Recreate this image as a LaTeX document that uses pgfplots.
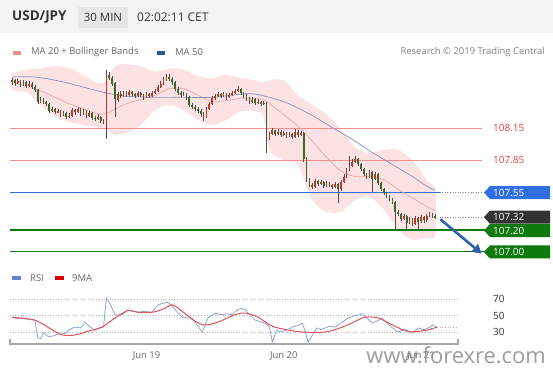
\documentclass[border=0pt]{standalone}
\usepackage{pgfplots}
\pgfplotsset{compat=1.18}
\usepackage{pgfplotstable}
\usetikzlibrary{arrows.meta}
\usepackage{fontspec}
\setmainfont{Open Sans}
\definecolor{hdr}{HTML}{F4F4F4}
\definecolor{minbox}{HTML}{E6E6E6}
\definecolor{bbfill}{HTML}{FCE2E2}
\definecolor{ma20}{HTML}{F0A0A0}
\definecolor{ma50}{HTML}{8092B8}
\definecolor{ma50sw}{HTML}{2B5797}
\definecolor{upc}{HTML}{C8322D}
\definecolor{dnc}{HTML}{2F6B2F}
\definecolor{lvlred}{HTML}{F29090}
\definecolor{lvltxt}{HTML}{E0403C}
\definecolor{lvlblue}{HTML}{2F6FE0}
\definecolor{lvlgreen}{HTML}{0E7A0E}
\definecolor{darktag}{HTML}{333333}
\definecolor{arrowc}{HTML}{2F62A8}
\definecolor{rsic}{HTML}{8AA4D8}
\definecolor{rsisw}{HTML}{5F7FCF}
\definecolor{rsima}{HTML}{E05555}
\definecolor{txt}{HTML}{333333}
\definecolor{txtg}{HTML}{666666}

\newcommand{\pricetag}[3]{%
  \fill[#2] (axis cs:166.1,#1) ++(-3bp,0bp) -- ++(6bp,6.5bp) -- ++(60bp,0bp) -- ++(0bp,-13bp) -- ++(-60bp,0bp) -- cycle;
  \node[white, anchor=west, inner sep=0pt, font=\fontsize{10}{10}\selectfont, xshift=6bp] at (axis cs:166.1,#1) {#3};}

\pgfplotstableread{
i o h l c
0 108.58 108.62 108.56 108.60
1 108.60 108.61 108.55 108.57
2 108.57 108.61 108.56 108.59
3 108.59 108.60 108.54 108.56
4 108.56 108.60 108.55 108.58
5 108.58 108.59 108.53 108.55
6 108.55 108.59 108.54 108.57
7 108.57 108.58 108.52 108.54
8 108.54 108.56 108.49 108.51
9 108.51 108.52 108.38 108.40
10 108.40 108.44 108.39 108.42
11 108.42 108.43 108.38 108.40
12 108.40 108.41 108.36 108.38
13 108.38 108.39 108.29 108.31
14 108.31 108.35 108.30 108.33
15 108.33 108.34 108.28 108.30
16 108.30 108.33 108.29 108.31
17 108.31 108.32 108.26 108.28
18 108.28 108.31 108.27 108.29
19 108.29 108.30 108.24 108.26
20 108.26 108.29 108.25 108.27
21 108.27 108.34 108.26 108.32
22 108.32 108.33 108.28 108.30
23 108.30 108.35 108.29 108.33
24 108.33 108.34 108.27 108.29
25 108.29 108.33 108.28 108.31
26 108.31 108.32 108.25 108.27
27 108.27 108.31 108.26 108.29
28 108.29 108.30 108.23 108.25
29 108.25 108.27 108.22 108.24
30 108.24 108.28 108.23 108.26
31 108.26 108.27 108.20 108.22
32 108.22 108.24 108.19 108.21
33 108.21 108.70 108.05 108.65
34 108.65 108.68 108.60 108.62
35 108.62 108.64 108.55 108.57
36 108.57 108.58 108.26 108.42
37 108.42 108.49 108.40 108.47
38 108.47 108.50 108.43 108.45
39 108.45 108.50 108.44 108.48
40 108.48 108.50 108.44 108.46
41 108.46 108.51 108.45 108.49
42 108.49 108.50 108.45 108.47
43 108.47 108.48 108.43 108.45
44 108.45 108.50 108.44 108.48
45 108.48 108.49 108.44 108.46
46 108.46 108.47 108.42 108.44
47 108.44 108.49 108.43 108.47
48 108.47 108.48 108.43 108.45
49 108.45 108.50 108.44 108.48
50 108.48 108.52 108.47 108.50
51 108.50 108.56 108.49 108.54
52 108.54 108.59 108.53 108.57
53 108.57 108.63 108.56 108.60
54 108.60 108.66 108.59 108.63
55 108.63 108.66 108.59 108.61
56 108.61 108.63 108.56 108.58
57 108.58 108.59 108.50 108.52
58 108.52 108.54 108.46 108.48
59 108.48 108.50 108.44 108.46
60 108.46 108.49 108.45 108.47
61 108.47 108.48 108.42 108.44
62 108.44 108.45 108.35 108.37
63 108.37 108.39 108.33 108.35
64 108.35 108.37 108.31 108.33
65 108.33 108.35 108.29 108.31
66 108.31 108.33 108.26 108.28
67 108.28 108.30 108.22 108.26
68 108.26 108.35 108.25 108.33
69 108.33 108.40 108.32 108.38
70 108.38 108.45 108.37 108.43
71 108.43 108.47 108.42 108.45
72 108.45 108.49 108.44 108.47
73 108.47 108.48 108.43 108.45
74 108.45 108.49 108.44 108.47
75 108.47 108.48 108.42 108.44
76 108.44 108.48 108.43 108.46
77 108.46 108.50 108.45 108.48
78 108.48 108.52 108.47 108.50
79 108.50 108.55 108.49 108.52
80 108.52 108.53 108.46 108.48
81 108.48 108.49 108.43 108.45
82 108.45 108.47 108.41 108.43
83 108.43 108.44 108.38 108.40
84 108.40 108.44 108.39 108.42
85 108.42 108.43 108.37 108.39
86 108.39 108.42 108.38 108.40
87 108.40 108.41 108.36 108.38
88 108.38 108.41 108.37 108.39
89 108.39 108.40 107.92 108.06
90 108.06 108.12 108.04 108.10
91 108.10 108.15 108.09 108.13
92 108.13 108.14 108.08 108.10
93 108.10 108.14 108.09 108.12
94 108.12 108.13 108.07 108.09
95 108.09 108.13 108.08 108.11
96 108.11 108.12 108.06 108.08
97 108.08 108.12 108.07 108.10
98 108.10 108.11 108.05 108.07
99 108.07 108.14 108.06 108.12
100 108.12 108.13 108.07 108.09
101 108.09 108.13 108.08 108.11
102 108.11 108.12 107.84 107.86
103 107.86 107.88 107.65 107.67
104 107.67 107.69 107.60 107.62
105 107.62 107.64 107.58 107.60
106 107.60 107.68 107.59 107.66
107 107.66 107.67 107.61 107.63
108 107.63 107.67 107.62 107.65
109 107.65 107.66 107.59 107.61
110 107.61 107.66 107.60 107.64
111 107.64 107.65 107.60 107.62
112 107.62 107.63 107.58 107.60
113 107.60 107.65 107.59 107.63
114 107.63 107.64 107.45 107.58
115 107.58 107.67 107.57 107.65
116 107.65 107.72 107.64 107.70
117 107.70 107.78 107.69 107.76
118 107.76 107.89 107.75 107.80
119 107.80 107.86 107.79 107.84
120 107.84 107.89 107.83 107.86
121 107.86 107.87 107.80 107.82
122 107.82 107.83 107.75 107.77
123 107.77 107.78 107.70 107.72
124 107.72 107.73 107.68 107.70
125 107.70 107.76 107.69 107.74
126 107.74 107.75 107.56 107.68
127 107.68 107.74 107.67 107.72
128 107.72 107.73 107.62 107.64
129 107.64 107.65 107.56 107.58
130 107.58 107.59 107.53 107.55
131 107.55 107.56 107.50 107.52
132 107.52 107.53 107.47 107.49
133 107.49 107.50 107.44 107.46
134 107.46 107.47 107.20 107.37
135 107.37 107.39 107.33 107.35
136 107.35 107.36 107.28 107.30
137 107.30 107.35 107.29 107.33
138 107.33 107.34 107.21 107.27
139 107.27 107.32 107.26 107.30
140 107.30 107.31 107.24 107.26
141 107.26 107.33 107.25 107.31
142 107.31 107.32 107.21 107.28
143 107.28 107.34 107.27 107.32
144 107.32 107.33 107.27 107.29
145 107.29 107.35 107.28 107.33
146 107.33 107.37 107.32 107.35
147 107.35 107.36 107.31 107.33
148 107.33 107.35 107.30 107.32
}\candles

\pgfplotstableread{
i o c
0 108.58 108.60
2 108.57 108.59
4 108.56 108.58
6 108.55 108.57
10 108.40 108.42
14 108.31 108.33
16 108.30 108.31
18 108.28 108.29
20 108.26 108.27
21 108.27 108.32
23 108.30 108.33
25 108.29 108.31
27 108.27 108.29
30 108.24 108.26
33 108.21 108.65
37 108.42 108.47
39 108.45 108.48
41 108.46 108.49
44 108.45 108.48
47 108.44 108.47
49 108.45 108.48
50 108.48 108.50
51 108.50 108.54
52 108.54 108.57
53 108.57 108.60
54 108.60 108.63
60 108.46 108.47
68 108.26 108.33
69 108.33 108.38
70 108.38 108.43
71 108.43 108.45
72 108.45 108.47
74 108.45 108.47
76 108.44 108.46
77 108.46 108.48
78 108.48 108.50
79 108.50 108.52
84 108.40 108.42
86 108.39 108.40
88 108.38 108.39
90 108.06 108.10
91 108.10 108.13
93 108.10 108.12
95 108.09 108.11
97 108.08 108.10
99 108.07 108.12
101 108.09 108.11
106 107.60 107.66
108 107.63 107.65
110 107.61 107.64
113 107.60 107.63
115 107.58 107.65
116 107.65 107.70
117 107.70 107.76
118 107.76 107.80
119 107.80 107.84
120 107.84 107.86
125 107.70 107.74
127 107.68 107.72
137 107.30 107.33
139 107.27 107.30
141 107.26 107.31
143 107.28 107.32
145 107.29 107.33
146 107.33 107.35
}\upbodies

\pgfplotstableread{
i o c
1 108.60 108.57
3 108.59 108.56
5 108.58 108.55
7 108.57 108.54
8 108.54 108.51
9 108.51 108.40
11 108.42 108.40
12 108.40 108.38
13 108.38 108.31
15 108.33 108.30
17 108.31 108.28
19 108.29 108.26
22 108.32 108.30
24 108.33 108.29
26 108.31 108.27
28 108.29 108.25
29 108.25 108.24
31 108.26 108.22
32 108.22 108.21
34 108.65 108.62
35 108.62 108.57
36 108.57 108.42
38 108.47 108.45
40 108.48 108.46
42 108.49 108.47
43 108.47 108.45
45 108.48 108.46
46 108.46 108.44
48 108.47 108.45
55 108.63 108.61
56 108.61 108.58
57 108.58 108.52
58 108.52 108.48
59 108.48 108.46
61 108.47 108.44
62 108.44 108.37
63 108.37 108.35
64 108.35 108.33
65 108.33 108.31
66 108.31 108.28
67 108.28 108.26
73 108.47 108.45
75 108.47 108.44
80 108.52 108.48
81 108.48 108.45
82 108.45 108.43
83 108.43 108.40
85 108.42 108.39
87 108.40 108.38
89 108.39 108.06
92 108.13 108.10
94 108.12 108.09
96 108.11 108.08
98 108.10 108.07
100 108.12 108.09
102 108.11 107.86
103 107.86 107.67
104 107.67 107.62
105 107.62 107.60
107 107.66 107.63
109 107.65 107.61
111 107.64 107.62
112 107.62 107.60
114 107.63 107.58
121 107.86 107.82
122 107.82 107.77
123 107.77 107.72
124 107.72 107.70
126 107.74 107.68
128 107.72 107.64
129 107.64 107.58
130 107.58 107.55
131 107.55 107.52
132 107.52 107.49
133 107.49 107.46
134 107.46 107.37
135 107.37 107.35
136 107.35 107.30
138 107.33 107.27
140 107.30 107.26
142 107.31 107.28
144 107.32 107.29
147 107.35 107.33
148 107.33 107.32
}\dnbodies

% Bollinger envelope: upper band forward, lower band back
\pgfplotstableread{
i p
0 108.66
5 108.70
10 108.71
15 108.73
20 108.71
25 108.65
30 108.57
33 108.60
36 108.73
40 108.75
45 108.73
50 108.68
55 108.71
60 108.70
65 108.64
70 108.62
75 108.65
80 108.62
85 108.60
88 108.58
90 108.60
95 108.60
100 108.46
105 108.37
110 108.28
115 108.14
120 107.97
125 107.92
130 107.95
135 107.95
140 107.85
145 107.67
148 107.57
148 107.15
145 107.13
140 107.11
135 107.20
130 107.39
125 107.51
120 107.48
115 107.37
110 107.37
105 107.48
100 107.81
95 107.85
90 107.95
88 108.26
85 108.31
80 108.31
75 108.23
70 108.18
65 108.23
60 108.32
55 108.37
50 108.32
45 108.18
40 108.11
36 108.09
33 108.14
30 108.16
25 108.18
20 108.21
15 108.26
10 108.37
5 108.49
0 108.51
0 108.66
}\bands

\pgfplotstableread{
i ma
0 108.58
10 108.50
20 108.38
30 108.29
33 108.29
36 108.33
40 108.38
45 108.42
50 108.46
55 108.52
60 108.52
65 108.46
70 108.40
75 108.41
80 108.43
85 108.43
88 108.42
90 108.38
95 108.28
100 108.17
105 108.03
110 107.88
115 107.75
120 107.70
125 107.70
130 107.67
135 107.58
140 107.50
145 107.42
148 107.38
}\maTwenty

\pgfplotstableread{
i ma
0 108.63
8 108.63
15 108.60
20 108.57
30 108.50
35 108.47
40 108.45
50 108.44
60 108.44
70 108.44
80 108.47
85 108.47
90 108.44
95 108.40
100 108.34
105 108.27
110 108.19
115 108.11
120 108.03
125 107.94
130 107.86
135 107.78
140 107.70
145 107.61
148 107.57
}\maFifty

\pgfplotstableread{
i r
0 48
2 46
3.5 47
6 45
8 44.5
9 23
10 22
11 29
12 26
13 24
15 26
17 29
18.5 28
20 33
22 36
24 35
25.5 42
27 37
29 32
30.5 35
32 36
33 71
34 66
36 51
38.5 51
40.5 57
42 55
44 54
46 55
49 54
51 63
53 65
54.5 66
56 62
57.5 55
59.5 48
61 47
63 47
65 37
66.5 30
68.5 47
71 53
73 51
75 52
77 51
78.5 56
80 59
81.5 57
82.5 53
84 48
85 44.5
87 42
88.5 41
90 36
91 18
92.5 32
94 30
95.5 32
97 34
98 36
100 38
101.5 41
102.5 30
103.5 18
105 26
106.5 35
108 33
109.5 35
111 37
113 36
115 41
117.5 47
119 49
120.5 50
122.5 52
124 47
126 41
128 44
129.5 47
131 41
133 35
135 30
137 33
138 32
140 29
142 35
143.5 33
144.5 33
146 36
147 38.5
148.5 36
}\rsi

\pgfplotstableread{
i m
0 48
4 46.5
8 44.5
12 37
17 27
21 26
24 28
26.5 31
31.5 36
36 47
40.5 56
44 54
49 54
53 58
56 63
59.5 55
64 43
67.5 38.5
72 42
78 51
81.5 53
86 48
91 37
98 31.5
101.5 30
109.5 30
115.5 36
120 43
123.5 48
128 47
133 38.5
138.5 30.5
144.5 32
148.5 36
}\rsima

\begin{document}
\begin{tikzpicture}[x=1bp,y=1bp]
\fill[white] (0,0) rectangle (553,375);
\fill[hdr] (0,342) rectangle (553,375);
\fill[minbox] (78,347) rectangle (128,368);
\node[anchor=west, inner sep=0pt, text=txt, font=\bfseries\fontsize{13.5}{14}\selectfont] at (12,358) {USD/JPY};
\node[inner sep=0pt, text=txt, font=\fontsize{11.5}{12}\selectfont] at (103,358) {30 MIN};
\node[anchor=west, inner sep=0pt, text=txt, font=\fontsize{12}{12}\selectfont] at (137,358) {02:02:11 CET};
% legend main
\fill[lvlred] (13,320.5) rectangle (21,324.5);
\node[anchor=west, inner sep=0pt, text=txtg, font=\fontsize{9.5}{10}\selectfont] at (31,322.5) {MA 20 + Bollinger Bands};
\fill[ma50sw] (157,320.5) rectangle (165,324.5);
\node[anchor=west, inner sep=0pt, text=txtg, font=\fontsize{9.5}{10}\selectfont] at (175,322.5) {MA 50};
\node[anchor=east, inner sep=0pt, text=black!50, font=\fontsize{9.5}{10}\selectfont] at (545,322.5) {Research © 2019 Trading Central};
% legend RSI
\fill[rsisw] (12,95) rectangle (21,99);
\node[anchor=west, inner sep=0pt, text=txtg, font=\fontsize{9.5}{10}\selectfont] at (30,97) {RSI};
\fill[red!85!black] (55,95) rectangle (64,99);
\node[anchor=west, inner sep=0pt, text=txtg, font=\fontsize{9.5}{10}\selectfont] at (72,97) {9MA};

\begin{axis}[at={(10bp,113bp)}, anchor=south west, width=477bp, height=200bp, scale only axis,
  xmin=-0.7, xmax=166.1, ymin=106.901, ymax=108.770, axis lines=none, clip=false]
\addplot[fill=bbfill, draw=none, smooth, tension=0.5] table[x=i, y=p] \bands;
% levels
\addplot[lvlred, line width=0.7bp] coordinates {(-0.7,108.15) (164.5,108.15)};
\addplot[lvlred, line width=0.7bp] coordinates {(-0.7,107.85) (164.5,107.85)};
\addplot[lvlblue, line width=0.8bp] coordinates {(-0.7,107.55) (149.5,107.55)};
\addplot[black!45, dotted, line width=0.6bp] coordinates {(149.5,107.55) (166.1,107.55)};
\addplot[black!45, dotted, line width=0.6bp] coordinates {(149.5,107.32) (166.1,107.32)};
\addplot[lvlgreen, line width=1.6bp] coordinates {(-0.7,107.20) (166.1,107.20)};
\addplot[lvlgreen, line width=1.6bp] coordinates {(-0.7,107.00) (166.1,107.00)};
% moving averages
\addplot[ma20, line width=0.6bp, smooth] table[x=i, y=ma] \maTwenty;
\addplot[ma50, line width=0.7bp, smooth] table[x=i, y=ma] \maFifty;
% candles: wicks
\addplot[draw=none, mark=none, error bars/.cd, y dir=both, y explicit, error mark=none,
  error bar style={line width=0.45bp, black!70}]
  table[x=i, y expr={(\thisrow{h}+\thisrow{l})/2}, y error expr={(\thisrow{h}-\thisrow{l})/2}] \candles;
% candles: bodies
\addplot[draw=none, mark=none, error bars/.cd, y dir=both, y explicit, error mark=none,
  error bar style={line width=1.7bp, upc}]
  table[x=i, y expr={(\thisrow{o}+\thisrow{c})/2}, y error expr={max(abs(\thisrow{c}-\thisrow{o})/2,0.005)}] \upbodies;
\addplot[draw=none, mark=none, error bars/.cd, y dir=both, y explicit, error mark=none,
  error bar style={line width=1.7bp, dnc}]
  table[x=i, y expr={(\thisrow{o}+\thisrow{c})/2}, y error expr={max(abs(\thisrow{c}-\thisrow{o})/2,0.005)}] \dnbodies;
% labels
\node[anchor=west, inner sep=0pt, text=lvltxt, font=\fontsize{10}{10}\selectfont, xshift=6bp] at (axis cs:166.1,108.15) {108.15};
\node[anchor=west, inner sep=0pt, text=lvltxt, font=\fontsize{10}{10}\selectfont, xshift=6bp] at (axis cs:166.1,107.85) {107.85};
\pricetag{107.55}{lvlblue}{107.55}
\pricetag{107.32}{darktag}{107.32}
\pricetag{107.195}{lvlgreen}{107.20}
\pricetag{106.995}{lvlgreen}{107.00}
\draw[arrowc, line width=2.6bp, -{Triangle[length=9bp, width=10bp]}] (axis cs:149.8,107.30) -- (axis cs:164.2,106.98);
\end{axis}

\begin{axis}[at={(10bp,31bp)}, anchor=south west, width=448bp, height=54bp, scale only axis,
  xmin=-0.7, xmax=155.9, ymin=15.5, ymax=80.9, axis lines=none, clip=false]
\addplot[black!30, dotted, line width=0.7bp] coordinates {(-0.7,70) (155.9,70)};
\addplot[black!30, dotted, line width=0.7bp] coordinates {(-0.7,50) (155.9,50)};
\addplot[black!30, dotted, line width=0.7bp] coordinates {(-0.7,30) (155.9,30)};
\addplot[black!30, dotted, line width=0.7bp] coordinates {(148.5,36) (155.9,36)};
\addplot[rsic, line width=0.8bp] table[x=i, y=r] \rsi;
\addplot[rsima, line width=1bp, smooth] table[x=i, y=m] \rsima;
\draw[black!35, line width=1.1bp] ([yshift=5bp]rel axis cs:0,0) -- (rel axis cs:0,0) -- (rel axis cs:1,0) -- ([yshift=5bp]rel axis cs:1,0);
\node[anchor=west, inner sep=0pt, text=txt, font=\fontsize{10}{10}\selectfont, xshift=35bp] at (axis cs:155.9,70) {70};
\node[anchor=west, inner sep=0pt, text=txt, font=\fontsize{10}{10}\selectfont, xshift=35bp] at (axis cs:155.9,50) {50};
\node[anchor=west, inner sep=0pt, text=txt, font=\fontsize{10}{10}\selectfont, xshift=35bp] at (axis cs:155.9,30) {30};
\node[text=txtg, inner sep=0pt, font=\fontsize{9.5}{10}\selectfont, yshift=-12bp] at (axis cs:47,15.5) {Jun 19};
\node[text=txtg, inner sep=0pt, font=\fontsize{9.5}{10}\selectfont, yshift=-12bp] at (axis cs:95,15.5) {Jun 20};
\node[text=txtg, inner sep=0pt, font=\fontsize{9.5}{10}\selectfont, yshift=-12bp] at (axis cs:143,15.5) {Jun 21};
\end{axis}
\node[anchor=east, inner sep=0pt, text=black!45, opacity=0.85, font=\fontsize{22}{22}\selectfont] at (546,20) {www.forexre.com};
\end{tikzpicture}
\end{document}
